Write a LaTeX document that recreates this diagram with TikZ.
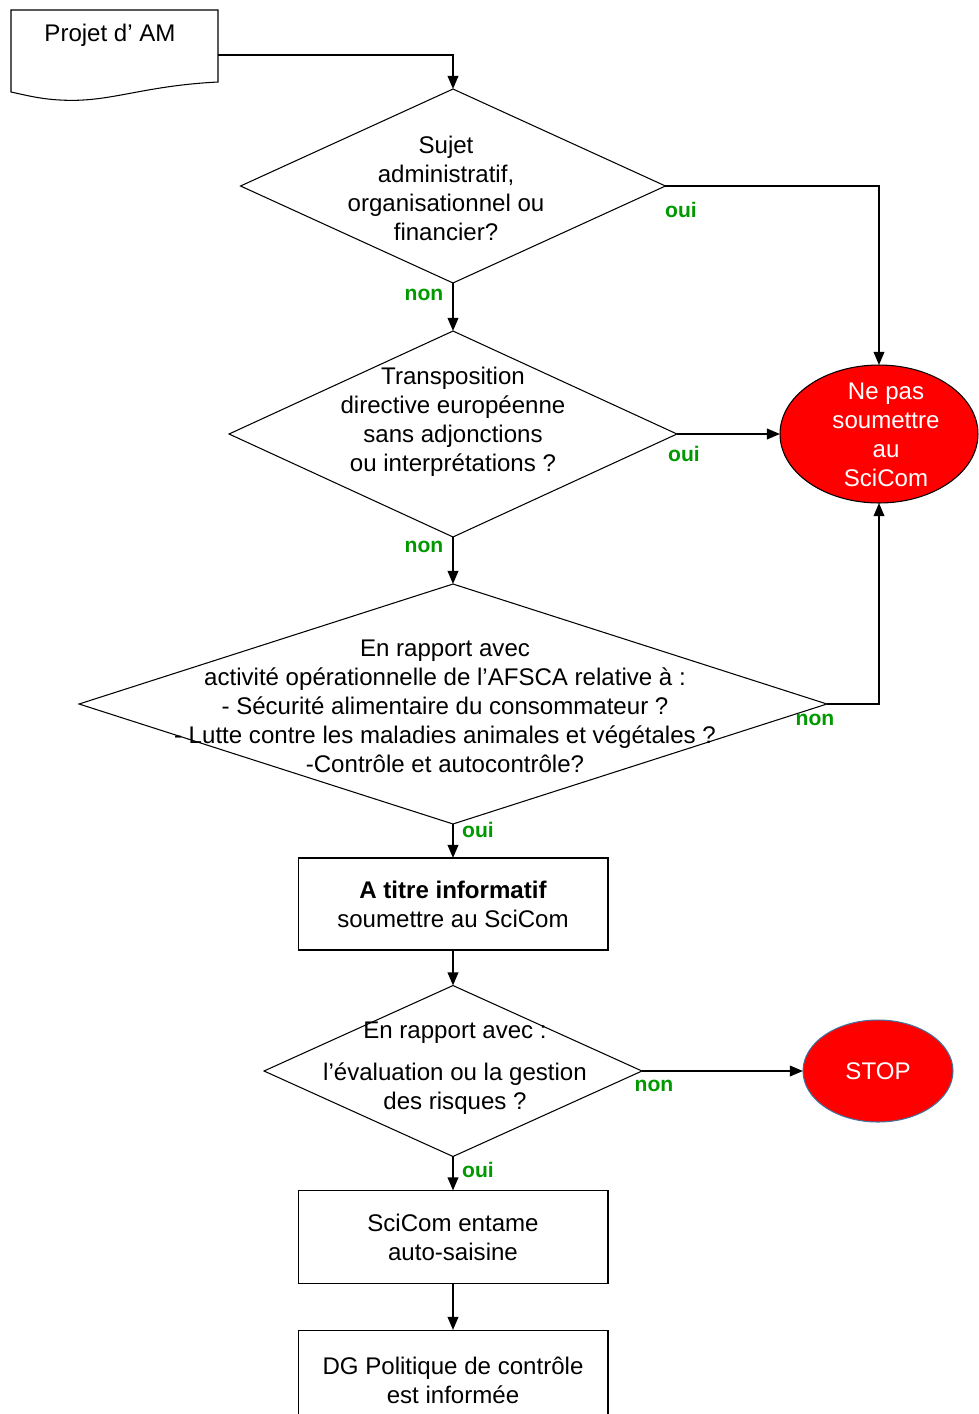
\documentclass[tikz,border=0pt]{standalone}
\usepackage{fontspec}
\setmainfont{Liberation Sans}
\usepackage{tikz}
\usetikzlibrary{positioning, shapes.geometric, arrows.meta}
\definecolor{ansgreen}{RGB}{0,153,0}
\definecolor{stopblue}{RGB}{65,113,156}

\begin{document}
\begin{tikzpicture}[
  x=0.02cm, y=-0.02cm,
  >={Triangle[length=7.5pt,width=6pt]},
  every node/.style={font=\fontsize{13.7}{16.5}\selectfont},
  decision/.style={draw, diamond, inner sep=0pt, outer sep=0pt, line width=0.6pt},
  txt/.style={align=center, inner sep=0pt},
  box/.style={draw, rectangle, minimum width=6.2cm, align=center, inner sep=2pt, outer sep=0pt, line width=0.6pt},
  redend/.style={draw, ellipse, fill=red, text=white, inner sep=0pt, outer sep=0pt, line width=0.6pt},
  ans/.style={font=\fontsize{12}{14}\selectfont\bfseries, text=ansgreen, inner sep=0pt},
  conn/.style={->, line width=1.2pt}
]
\useasboundingbox (0,0) rectangle (979,1414);

% Start: document shape
\draw[line width=0.6pt] (11,10) -- (218,10) -- (218,82) .. controls (140,86) and (110,103) .. (60,100) .. controls (40,99) and (25,95) .. (11,92) -- cycle;
\node[txt] (start) at (110,35) {Projet d’ AM};
\coordinate (startout) at (218,55);

% Decisions
\node[decision, minimum width=8.5cm, minimum height=3.88cm] (admin) at (453,186) {};
\node[txt] (admintxt) at (446,188) {Sujet\\administratif,\\organisationnel ou\\financier?};

\node[decision, minimum width=8.96cm, minimum height=4.12cm] (transp) at (453,434) {};
\node[txt] (transptxt) at (453,422) {Transposition\\directive européenne\\sans adjonctions\\ou interprétations ?};

\node[decision, minimum width=14.96cm, minimum height=4.8cm] (afsca) at (453,704) {};
\node[txt] (afscatxt) at (445,706) {En rapport avec\\activité opérationnelle de l’AFSCA relative à :\\- Sécurité alimentaire du consommateur ?\\- Lutte contre les maladies animales et végétales ?\\-Contrôle et autocontrôle?};

\node[decision, minimum width=7.56cm, minimum height=3.42cm] (risk) at (453,1071) {};
\node[txt] (risktxt) at (455,1068) {En rapport avec :\\[0.25cm]l’évaluation ou la gestion\\des risques ?};

% End points
\node[redend, minimum width=3.96cm, minimum height=2.76cm] (nosub) at (879,434) {};
\node[txt, text=white] (nosubtxt) at (886,435) {Ne pas\\soumettre\\au\\SciCom};
\node[redend, draw=stopblue, minimum width=3cm, minimum height=2.04cm] (stop) at (878,1071) {STOP};

% Boxes
\node[box, minimum height=1.84cm] (info) at (453,904) {\textbf{A titre informatif}\\soumettre au SciCom};
\node[box, minimum height=1.86cm] (auto) at (453,1237) {SciCom entame\\auto-saisine};
\node[box, minimum height=2cm] (dg) at (453,1380) {DG Politique de contrôle\\est informée};

% Connectors
\draw[conn] (startout) -| (admin.north);
\draw[conn] (admin.east) -| (nosub.north);
\draw[conn] (admin.south) -- (transp.north);
\draw[conn] (transp.east) -- (nosub.west);
\draw[conn] (transp.south) -- (afsca.north);
\draw[conn] (afsca.east) -| (nosub.south);
\draw[conn] (afsca.south) -- (info.north);
\draw[conn] (info.south) -- (risk.north);
\draw[conn] (risk.east) -- (stop.west);
\draw[conn] (risk.south) -- (auto.north);
\draw[conn] (auto.south) -- (dg.north);

% Answers
\node[ans] (oui1) at (681,210) {oui};
\node[ans] (non1) at (424,295) {non};
\node[ans] (oui2) at (684,454) {oui};
\node[ans] (non2) at (424,547) {non};
\node[ans] (non3) at (815,720) {non};
\node[ans] (oui3) at (478,830) {oui};
\node[ans] (non4) at (654,1086) {non};
\node[ans] (oui4) at (478,1170) {oui};

\end{tikzpicture}
\end{document}
